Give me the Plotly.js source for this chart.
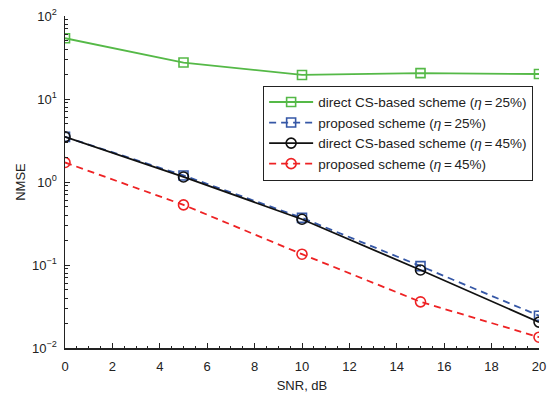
<!DOCTYPE html>
<html><head><meta charset="utf-8">
<script src="https://cdn.plot.ly/plotly-3.0.1.min.js"></script>
<style>body{margin:0;background:#fff}#plot{width:560px;height:399px}</style>
</head><body><div id="plot"></div>
<script>
const snr = [0, 5, 10, 15, 20];
const directCS25 = [54, 27.5, 19.5, 20.5, 20];
const proposed25 = [3.5, 1.2, 0.37, 0.097, 0.0245];
const directCS45 = [3.5, 1.15, 0.356, 0.087, 0.0205];
const proposed45 = [1.72, 0.53, 0.135, 0.036, 0.0135];
const yTickVals = [0.01, 0.1, 1, 10, 100];
const yTickText = ['10<sup>−2</sup>', '10<sup>−1</sup>', '10<sup>0</sup>', '10<sup>1</sup>', '10<sup>2</sup>'];
const names = [
  'direct CS-based scheme (<i>η</i>\u2009=\u200925%)',
  'proposed scheme (<i>η</i>\u2009=\u200925%)',
  'direct CS-based scheme (<i>η</i>\u2009=\u200945%)',
  'proposed scheme (<i>η</i>\u2009=\u200945%)'
];
const ff = 'Liberation Sans, Arial, sans-serif';
const traces = [
  {x: snr, y: directCS25, name: names[0], mode: 'lines+markers',
   line: {color: '#55b947', width: 1.8}, marker: {symbol: 'square-open', size: 9, color: '#55b947', line: {width: 1.6}}},
  {x: snr, y: proposed25, name: names[1], mode: 'lines+markers',
   line: {color: '#3557a6', width: 1.8, dash: '7px,5px'}, marker: {symbol: 'square-open', size: 9, color: '#3557a6', line: {width: 1.6}}},
  {x: snr, y: directCS45, name: names[2], mode: 'lines+markers',
   line: {color: '#111111', width: 1.8}, marker: {symbol: 'circle-open', size: 10, color: '#111111', line: {width: 1.6}}},
  {x: snr, y: proposed45, name: names[3], mode: 'lines+markers',
   line: {color: '#ee2224', width: 1.8, dash: '7px,5px'}, marker: {symbol: 'circle-open', size: 10, color: '#ee2224', line: {width: 1.6}}}
];
const layout = {
  width: 560, height: 399,
  margin: {l: 65, r: 21, t: 16, b: 51},
  paper_bgcolor: '#fff', plot_bgcolor: '#fff',
  font: {family: ff, size: 13, color: '#222'},
  showlegend: true,
  legend: {x: 0.418, y: 0.79, xanchor: 'left', yanchor: 'top', bordercolor: '#222', borderwidth: 1,
           bgcolor: '#fff', font: {family: ff, size: 13.5, color: '#222'}, tracegroupgap: 0, itemwidth: 44},
  xaxis: {range: [0, 20], dtick: 2, tick0: 0, showgrid: false, zeroline: false,
          showline: true, linecolor: '#222', linewidth: 1.5, ticks: 'inside', ticklen: 5, tickcolor: '#222',
          minor: {dtick: 0.5, ticks: 'inside', ticklen: 2, tickcolor: '#222'},
          ticklabelstandoff: 6,
          tickfont: {family: ff, size: 13, color: '#222'},
          title: {text: 'SNR, dB', font: {family: ff, size: 13, color: '#222'}, standoff: 8}},
  yaxis: {type: 'log', range: [-2, 2], tickvals: yTickVals, ticktext: yTickText, showgrid: false, zeroline: false,
          showline: true, linecolor: '#222', linewidth: 1.5, ticks: 'inside', ticklen: 5, tickcolor: '#222',
          minor: {dtick: 'D1', ticks: 'inside', ticklen: 2.5, tickcolor: '#222'},
          ticklabelstandoff: 4,
          tickfont: {family: ff, size: 13, color: '#222'},
          title: {text: 'NMSE', font: {family: ff, size: 13, color: '#222'}, standoff: 3}}
};
Plotly.newPlot('plot', traces, layout, {displayModeBar: false, staticPlot: true});
</script></body></html>
